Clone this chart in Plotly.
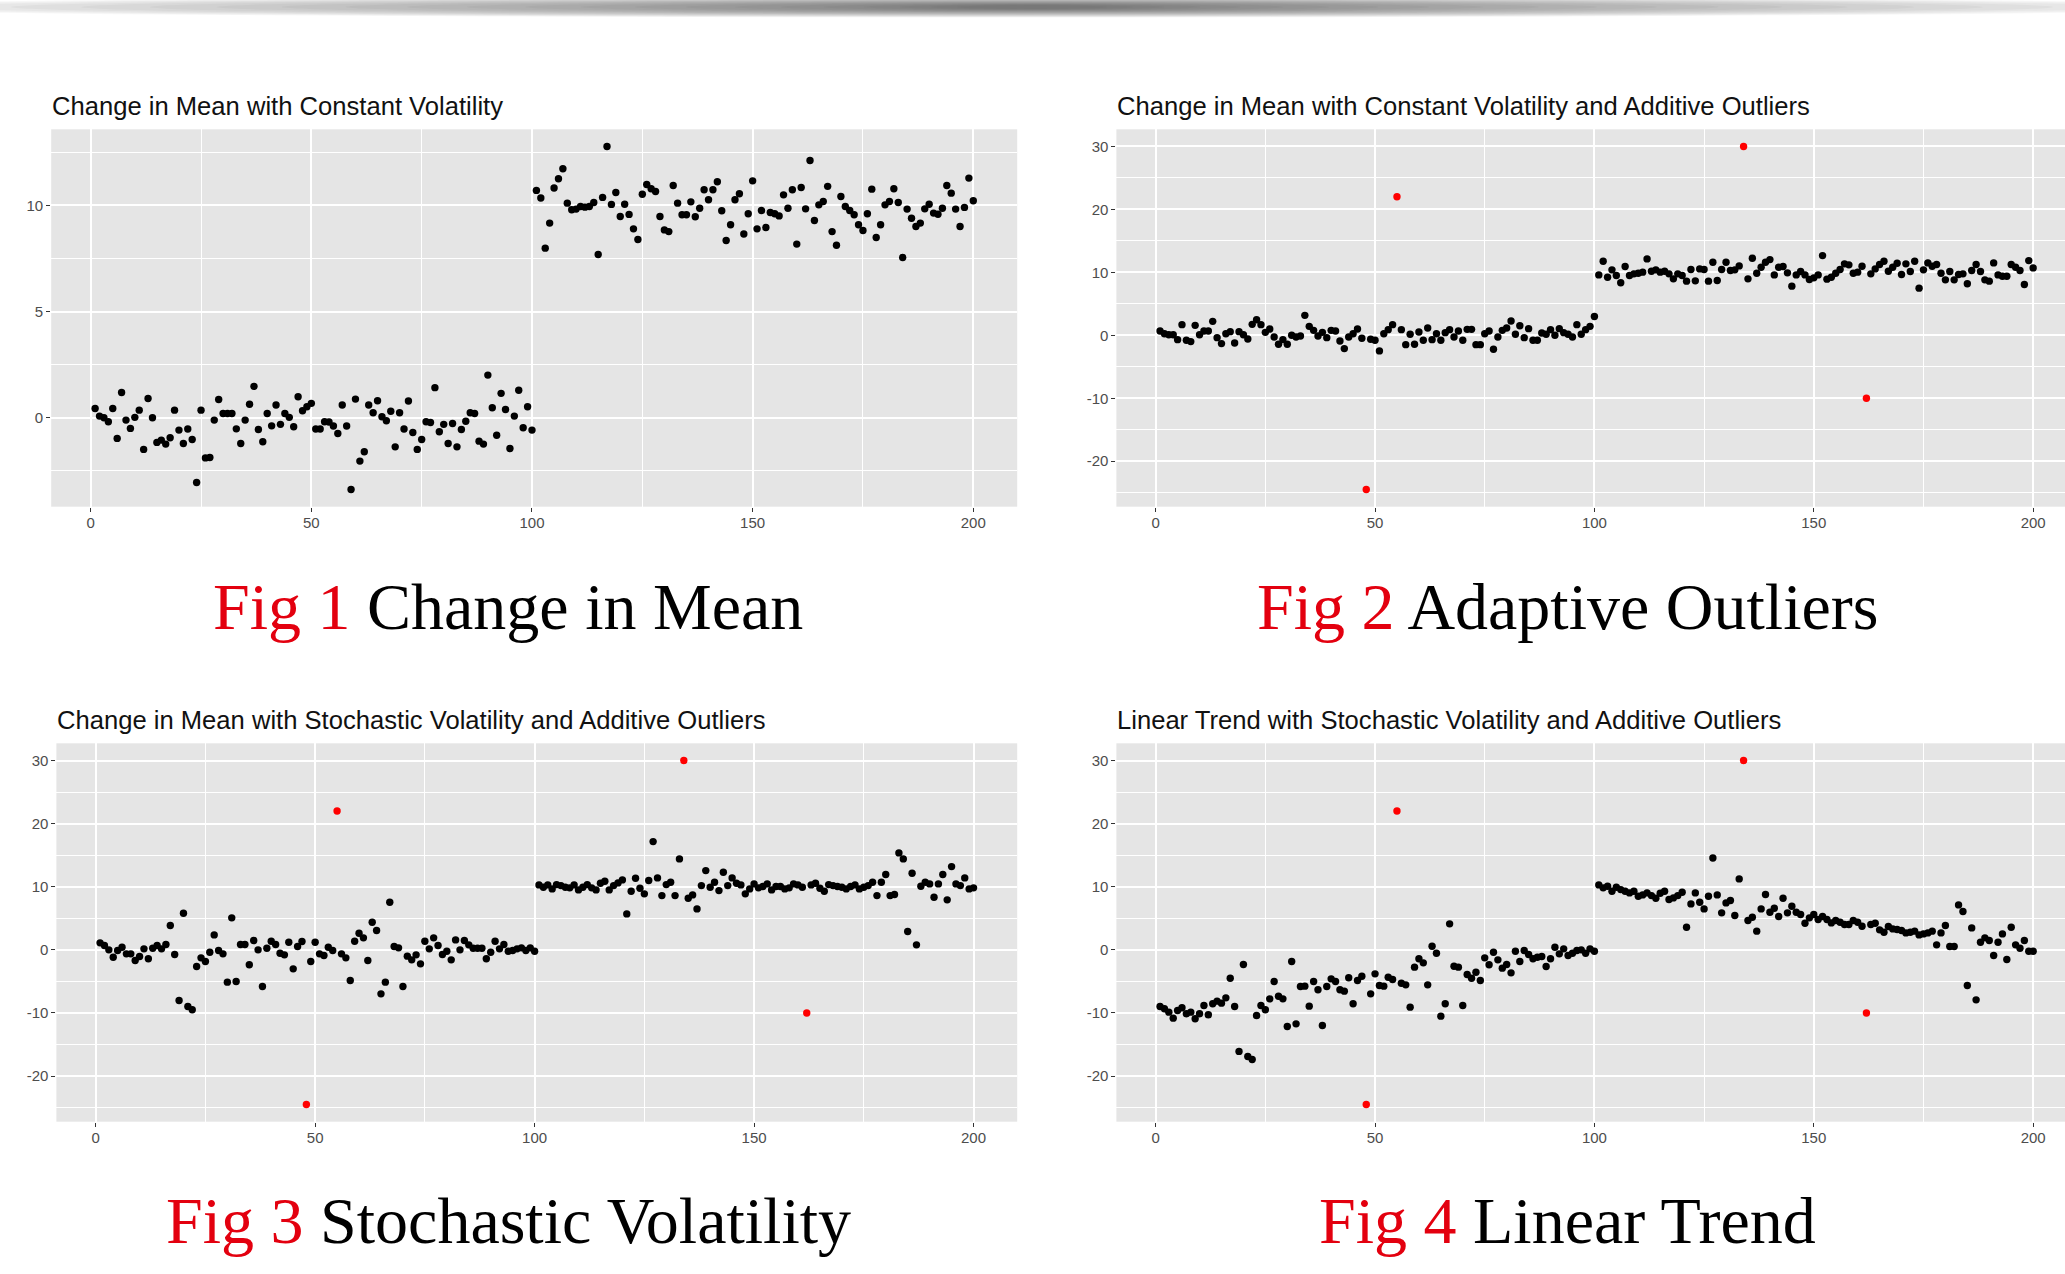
import plotly.graph_objects as go

# ---------------------------------------------------------------------------
# Data: four simulated series observed at t = 1..200
# ---------------------------------------------------------------------------
t = list(range(1, 201))

# Fig 1: change in mean with constant volatility
mean_shift = [
    0.44, 0.08, 0.0, -0.19, 0.44, -0.97, 1.19, -0.11, -0.5, 0.02,
    0.36, -1.49, 0.91, 0.0, -1.16, -1.05, -1.24, -0.94, 0.36, -0.58,
    -1.21, -0.53, -1.02, -3.05, 0.36, -1.89, -1.87, -0.11, 0.86, 0.2,
    0.2, 0.2, -0.52, -1.21, -0.11, 0.64, 1.48, -0.55, -1.13, 0.2,
    -0.38, 0.6, -0.31, 0.2, 0.02, -0.42, 0.99, 0.33, 0.52, 0.68,
    -0.53, -0.53, -0.19, -0.2, -0.39, -0.74, 0.6, -0.39, -3.38, 0.88,
    -2.04, -1.6, 0.6, 0.24, 0.8, 0.05, -0.14, 0.31, -1.37, 0.24,
    -0.53, 0.79, -0.69, -1.49, -1.02, -0.19, -0.22, 1.42, -0.66, -0.31,
    -1.21, -0.27, -1.37, -0.55, -0.16, 0.24, 0.2, -1.1, -1.24, 2.01,
    0.47, -0.82, 1.15, 0.39, -1.45, 0.08, 1.3, -0.47, 0.52, -0.58,
    10.71, 10.35, 7.99, 9.17, 10.82, 11.26, 11.73, 10.11, 9.8, 9.83,
    9.95, 9.92, 9.95, 10.14, 7.69, 10.38, 12.78, 10.05, 10.61, 9.48,
    10.06, 9.58, 8.9, 8.4, 10.53, 10.99, 10.79, 10.66, 9.48, 8.85,
    8.77, 10.94, 10.11, 9.56, 9.56, 10.17, 9.47, 9.87, 10.74, 10.27,
    10.74, 11.12, 9.75, 8.35, 9.09, 10.27, 10.55, 8.66, 9.61, 11.16,
    8.9, 9.76, 8.96, 9.67, 9.61, 9.51, 10.5, 9.87, 10.74, 8.18,
    10.85, 9.84, 12.12, 9.29, 10.03, 10.19, 10.9, 8.77, 8.13, 10.42,
    9.95, 9.76, 9.56, 9.09, 8.82, 9.61, 10.77, 8.49, 9.09, 10.03,
    10.19, 10.79, 10.14, 7.55, 9.83, 9.4, 9.01, 9.17, 9.84, 10.06,
    9.64, 9.59, 9.87, 10.94, 10.58, 9.83, 9.01, 9.91, 11.29, 10.22,
]

# Fig 2: change in mean with constant volatility and additive outliers
mean_shift_ao = [
    0.69, 0.26, 0.1, 0.1, -0.69, 1.69, -0.79, -1.0, 1.58, 0.1,
    0.69, 0.69, 2.22, -0.37, -1.32, 0.26, 0.58, -1.21, 0.58, 0.1,
    -0.58, 1.74, 2.48, 1.69, 0.47, 1.0, -0.26, -1.42, -0.69, -1.42,
    0.0, -0.26, -0.1, 3.17, 1.42, 0.79, -0.1, 0.47, -0.37, 0.79,
    0.69, -0.9, -2.11, -0.26, 0.26, 1.0, -0.47, -24.5, -0.63, -0.79,
    -2.48, 0.26, 0.9, 1.69, 22.0, 0.9, -1.48, 0.16, -1.42, 0.53,
    -0.79, 1.16, -0.69, 0.26, -0.79, 0.42, 0.9, -0.26, 0.69, -0.79,
    0.95, 0.95, -1.48, -1.48, 0.26, 0.69, -2.22, -0.26, 0.79, 1.16,
    2.27, 0.16, 1.53, -0.37, 1.06, -0.79, -0.79, 0.37, 0.16, 0.9,
    0.0, 1.06, 0.42, 0.16, -0.26, 1.69, 0.16, 0.9, 1.42, 3.0,
    9.6, 11.77, 9.23, 10.4, 9.5, 8.34, 10.92, 9.5, 9.76, 9.87,
    10.03, 12.14, 10.18, 10.4, 10.03, 10.18, 9.76, 8.97, 9.76, 9.5,
    8.6, 10.45, 8.65, 10.55, 10.45, 8.6, 11.61, 8.71, 10.45, 11.61,
    10.29, 10.4, 11.03, 30.0, 8.97, 12.24, 9.87, 10.82, 11.61, 12.03,
    9.6, 10.82, 10.92, 9.92, 7.81, 9.6, 10.13, 9.6, 8.87, 9.13,
    9.6, 12.66, 8.92, 9.23, 9.87, 10.45, 11.35, 11.19, 9.87, 10.03,
    10.98, -10.0, 9.76, 10.55, 11.24, 11.77, 10.18, 10.82, 11.45, 9.66,
    11.35, 10.13, 11.77, 7.49, 10.4, 11.5, 10.98, 11.24, 9.87, 8.81,
    10.13, 8.81, 9.66, 9.76, 8.18, 10.29, 11.24, 10.13, 8.81, 8.6,
    11.5, 9.6, 9.39, 9.39, 11.24, 10.82, 10.29, 8.07, 11.87, 10.71,
]

# Fig 3: change in mean with stochastic volatility and additive outliers
mean_shift_sv_ao = [
    1.11, 0.69, 0.0, -1.16, -0.11, 0.42, -0.63, -0.63, -1.69, -1.06,
    0.16, -1.42, 0.26, 0.69, 0.16, 0.84, 3.85, -0.74, -8.02, 5.8,
    -8.97, -9.5, -2.64, -1.27, -1.85, -0.37, 2.37, -0.11, -0.63, -5.12,
    5.07, -5.01, 0.84, 0.84, -2.37, 1.48, 0.0, -5.8, 0.26, 1.37,
    0.84, -0.53, -0.79, 1.21, -3.01, 0.53, 1.32, -24.5, -1.85, 1.21,
    -0.63, -0.9, 0.42, -0.11, 22.0, -0.63, -1.27, -4.85, 1.37, 2.64,
    1.9, -1.69, 4.38, 3.06, -6.97, -5.12, 7.55, 0.53, 0.32, -5.8,
    -1.0, -1.58, -0.79, -2.22, 1.37, 0.16, 1.9, 0.69, -0.74, -0.21,
    -1.58, 1.58, 0.0, 1.48, 0.79, 0.26, 0.26, 0.26, -1.42, -0.37,
    1.37, 0.16, 0.84, -0.21, -0.11, 0.16, 0.32, -0.11, 0.32, -0.21,
    10.29, 9.92, 10.29, 9.66, 10.34, 10.18, 9.92, 9.82, 10.29, 9.5,
    9.92, 10.34, 9.82, 9.5, 10.55, 10.87, 9.5, 10.18, 10.61, 11.08,
    5.7, 9.29, 11.35, 9.76, 8.87, 10.98, 17.15, 11.4, 8.6, 10.34,
    10.71, 8.6, 14.41, 30.0, 8.18, 8.71, 6.49, 10.18, 12.56, 9.92,
    10.71, 9.39, 12.3, 10.18, 11.4, 10.55, 10.29, 8.87, 9.66, 10.45,
    9.82, 10.03, 10.45, 9.5, 10.03, 10.03, 9.66, 9.82, 10.45, 10.29,
    9.92, -10.0, 10.29, 10.55, 9.76, 9.29, 10.34, 10.18, 10.03, 9.92,
    9.66, 10.03, 10.29, 9.66, 9.92, 10.18, 10.71, 8.6, 10.71, 11.93,
    8.6, 8.76, 15.36, 14.41, 2.9, 12.14, 0.79, 10.08, 10.71, 10.45,
    8.34, 10.45, 11.93, 7.92, 13.19, 10.45, 10.18, 11.4, 9.66, 9.82,
]

# Fig 4: linear trend with stochastic volatility and additive outliers
trend_sv_ao = [
    -8.97, -9.34, -9.87, -10.82, -9.6, -9.18, -10.13, -9.87, -10.92, -10.13,
    -8.81, -10.29, -8.55, -8.13, -8.44, -7.6, -4.49, -8.97, -16.09, -2.32,
    -16.89, -17.36, -10.4, -8.81, -9.5, -7.76, -5.01, -7.34, -7.76, -12.14,
    -1.85, -11.72, -5.8, -5.75, -8.92, -5.01, -6.33, -11.98, -5.8, -4.59,
    -5.01, -6.33, -6.54, -4.43, -8.55, -4.85, -4.17, -24.5, -6.97, -3.8,
    -5.65, -5.75, -4.33, -4.7, 22.0, -5.28, -5.54, -9.08, -2.74, -1.42,
    -2.06, -5.54, 0.58, -0.53, -10.5, -8.55, 4.12, -2.59, -2.74, -8.81,
    -3.9, -4.49, -3.54, -4.85, -1.27, -2.37, -0.37, -1.58, -2.9, -2.32,
    -3.64, -0.21, -1.85, -0.11, -0.74, -1.42, -1.16, -1.06, -2.64, -1.42,
    0.42, -0.63, 0.16, -0.9, -0.53, -0.11, 0.0, -0.53, 0.16, -0.21,
    10.29, 9.82, 10.08, 9.29, 9.92, 9.55, 9.29, 9.02, 9.29, 8.5,
    8.71, 9.02, 8.6, 8.18, 8.97, 9.29, 7.97, 8.23, 8.6, 9.13,
    3.59, 7.28, 9.02, 7.55, 6.49, 8.5, 14.56, 8.71, 5.86, 7.44,
    7.81, 5.44, 11.24, 30.0, 4.64, 5.17, 2.96, 6.49, 8.76, 5.96,
    6.6, 5.28, 8.18, 5.86, 6.91, 5.96, 5.59, 4.22, 5.07, 5.59,
    4.8, 5.28, 4.8, 4.27, 4.64, 4.38, 4.01, 4.01, 4.64, 4.38,
    3.75, -10.0, 4.01, 4.22, 3.17, 2.8, 3.69, 3.32, 3.22, 3.06,
    2.69, 2.8, 2.96, 2.37, 2.53, 2.69, 2.96, 0.79, 2.69, 3.85,
    0.53, 0.53, 7.12, 6.07, -5.65, 3.48, -7.92, 1.21, 1.9, 1.48,
    -0.9, 1.21, 2.53, -1.53, 3.59, 0.79, 0.26, 1.48, -0.21, -0.21,
]

# time points carrying an additive outlier (drawn in red)
outlier_times = [48, 55, 134, 162]

panel_titles = [
    "Change in Mean with Constant Volatility",
    "Change in Mean with Constant Volatility and Additive Outliers",
    "Change in Mean with Stochastic Volatility and Additive Outliers",
    "Linear Trend with Stochastic Volatility and Additive Outliers",
]
fig_labels = ["Fig 1", "Fig 2", "Fig 3", "Fig 4"]
fig_captions = ["Change in Mean", "Adaptive Outliers", "Stochastic Volatility", "Linear Trend"]

x_ticks = [0, 50, 100, 150, 200]
x_minor = [25, 75, 125, 175]
y_ticks_small = [0, 5, 10]
y_minor_small = [-2.5, 2.5, 7.5, 12.5]
y_ticks_wide = [-20, -10, 0, 10, 20, 30]
y_minor_wide = [-25, -15, -5, 5, 15, 25]

# ---------------------------------------------------------------------------
# Page geometry (pixels)
# ---------------------------------------------------------------------------
W, H = 2065, 1274
PANEL_BG = "#E5E5E5"
TICK_FONT = dict(family="Liberation Sans, Arial, sans-serif", size=15, color="#4D4D4D")
TITLE_FONT = dict(family="Liberation Sans, Arial, sans-serif", size=25.6, color="#111111")
CAPTION_FONT = dict(family="Liberation Serif, Times New Roman, serif", size=66, color="#000000")

panels = [
    dict(y=mean_shift, outliers=[], left=51.2, right=1017.2, top=129.3, bottom=506.7,
         yt=y_ticks_small, ym=y_minor_small, cap_x=507.5, cap_y=606),
    dict(y=mean_shift_ao, outliers=outlier_times, left=1116.4, right=2076.8, top=129.3, bottom=506.7,
         yt=y_ticks_wide, ym=y_minor_wide, cap_x=1567, cap_y=606),
    dict(y=mean_shift_sv_ao, outliers=outlier_times, left=56.4, right=1017.2, top=743.3, bottom=1121.7,
         yt=y_ticks_wide, ym=y_minor_wide, cap_x=508, cap_y=1220),
    dict(y=trend_sv_ao, outliers=outlier_times, left=1116.4, right=2076.8, top=743.3, bottom=1121.7,
         yt=y_ticks_wide, ym=y_minor_wide, cap_x=1567, cap_y=1220),
]


def expand(lo, hi, frac=0.05):
    span = hi - lo
    return lo - frac * span, hi + frac * span


fig = go.Figure()
annotations = []

for k, p in enumerate(panels):
    n = "" if k == 0 else str(k + 1)
    xa, ya = "x" + n, "y" + n

    # ggplot-style 5% expansion on both scales
    x_lo, x_hi = expand(min(t), max(t))
    y_lo, y_hi = expand(min(p["y"]), max(p["y"]))

    # panels on the right run past the page edge: keep the same scale, clip the view
    right = p["right"]
    if right > W:
        frac = (W - p["left"]) / (right - p["left"])
        x_hi = x_lo + frac * (x_hi - x_lo)
        right = W

    normal_t = [ti for ti in t if ti not in p["outliers"]]
    normal_y = [p["y"][ti - 1] for ti in normal_t]
    out_y = [p["y"][ti - 1] for ti in p["outliers"]]

    fig.add_trace(go.Scatter(
        x=normal_t, y=normal_y, mode="markers", xaxis=xa, yaxis=ya,
        marker=dict(color="black", size=7.4, line=dict(width=0)),
        showlegend=False, hoverinfo="x+y",
    ))
    if p["outliers"]:
        fig.add_trace(go.Scatter(
            x=p["outliers"], y=out_y, mode="markers", xaxis=xa, yaxis=ya,
            marker=dict(color="#FF0000", size=7.4, line=dict(width=0)),
            showlegend=False, hoverinfo="x+y",
        ))

    common = dict(
        showline=False, zeroline=False, ticks="outside", ticklen=4, tickwidth=1,
        tickcolor="#333333", tickfont=TICK_FONT, showgrid=True,
        gridcolor="white", gridwidth=1.6,
    )
    fig.layout["xaxis" + n] = dict(
        domain=[p["left"] / W, right / W], range=[x_lo, x_hi], anchor=ya,
        tickmode="array", tickvals=x_ticks, ticktext=[str(v) for v in x_ticks],
        ticklabelstandoff=-2,
        minor=dict(tickmode="array", tickvals=x_minor, showgrid=True,
                   gridcolor="white", gridwidth=0.8, ticks=""),
        **common,
    )
    fig.layout["yaxis" + n] = dict(
        domain=[1 - p["bottom"] / H, 1 - p["top"] / H], range=[y_lo, y_hi], anchor=xa,
        tickmode="array", tickvals=p["yt"], ticktext=[str(v) for v in p["yt"]],
        minor=dict(tickmode="array", tickvals=p["ym"], showgrid=True,
                   gridcolor="white", gridwidth=0.8, ticks=""),
        **common,
    )

    # panel title, left-aligned with the panel
    annotations.append(dict(
        xref="paper", yref="paper", x=(p["left"] - 1.5) / W, y=1 - (p["top"] - 23.5) / H,
        xanchor="left", yanchor="middle", showarrow=False,
        text=panel_titles[k], font=TITLE_FONT,
    ))
    # figure caption below the panel
    annotations.append(dict(
        xref="paper", yref="paper", x=p["cap_x"] / W, y=1 - p["cap_y"] / H,
        xanchor="center", yanchor="middle", showarrow=False,
        text=f"<span style='color:#E3000F'>{fig_labels[k]}</span> {fig_captions[k]}",
        font=CAPTION_FONT,
    ))

# soft grey shadow along the top edge of the page
shapes = []
N = 22
for i in range(N):
    f = i / N
    rx = 1180 * (1 - f) ** 1.4 + 60
    ry = 9.0 * (1 - f) + 1.5
    cx, cy = 1032, 7
    shapes.append(dict(
        type="circle", xref="paper", yref="paper", layer="below",
        x0=(cx - rx) / W, x1=(cx + rx) / W,
        y0=1 - (cy + ry) / H, y1=1 - (cy - ry) / H,
        fillcolor="rgba(0,0,0,0.033)", line=dict(width=0),
    ))

fig.update_layout(
    width=W, height=H, margin=dict(l=0, r=0, t=0, b=0),
    paper_bgcolor="white", plot_bgcolor=PANEL_BG,
    annotations=annotations, shapes=shapes, showlegend=False,
)

fig.write_html("out.html")
